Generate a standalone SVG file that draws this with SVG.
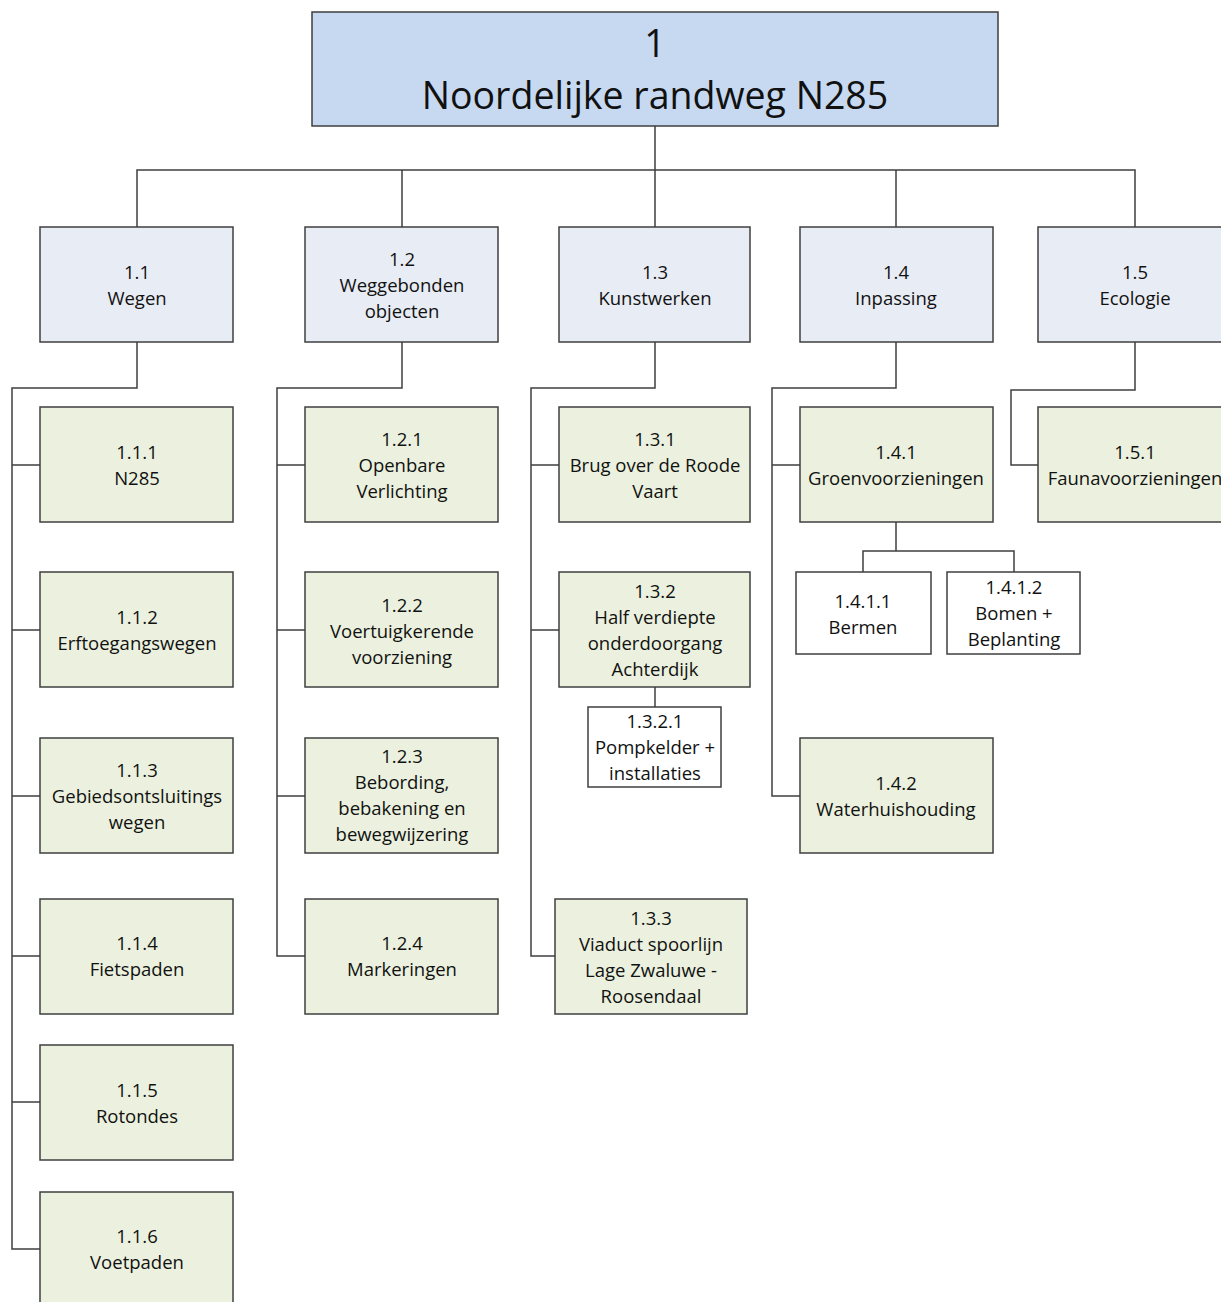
<svg xmlns="http://www.w3.org/2000/svg" width="1221" height="1302" viewBox="0 0 1221 1302">
<style>
.b{stroke:#3f3f3f;stroke-width:1.5}
.top{fill:#C6D9F0}
.l2{fill:#E8ECF4}
.l3{fill:#EBF1DE}
.l4{fill:#FFFFFF}
text{font-family:"Open Sans","Noto Sans",sans-serif;font-size:18.5px;fill:#111;text-anchor:middle}
.big{font-size:37.5px}
.c{fill:none;stroke:#3f3f3f;stroke-width:1.5}
</style>
<rect width="1221" height="1302" fill="#fff"/>
<g id="connectors">
<path class="c" d="M655 126V227M137 227V170H1135V227M402 170V227M896 170V227"/>
<path class="c" d="M137 342V388H12V1249H40M12 465H40M12 630H40M12 796H40M12 956H40M12 1102H40"/>
<path class="c" d="M402 342V388H277V956H305M277 465H305M277 630H305M277 796H305"/>
<path class="c" d="M655 342V388H531V956H555M531 465H559M531 630H559"/>
<path class="c" d="M655 687V707"/>
<path class="c" d="M896 342V388H772V796H800M772 465H800"/>
<path class="c" d="M896 522V551H863V572M863 551H1014V572"/>
<path class="c" d="M1135 342V390H1011V465H1038"/>
</g>
<g id="n1"><rect class="b top" x="312" y="12" width="686" height="114"/><text class="big" x="655" y="57">1</text><text class="big" x="655" y="109">Noordelijke randweg N285</text></g>
<g id="n1_1"><rect class="b l2" x="40" y="227" width="193" height="115"/><text x="137" y="279">1.1</text><text x="137" y="305">Wegen</text></g>
<g id="n1_2"><rect class="b l2" x="305" y="227" width="193" height="115"/><text x="402" y="266">1.2</text><text x="402" y="292">Weggebonden</text><text x="402" y="318">objecten</text></g>
<g id="n1_3"><rect class="b l2" x="559" y="227" width="191" height="115"/><text x="655" y="279">1.3</text><text x="655" y="305">Kunstwerken</text></g>
<g id="n1_4"><rect class="b l2" x="800" y="227" width="193" height="115"/><text x="896" y="279">1.4</text><text x="896" y="305">Inpassing</text></g>
<g id="n1_5"><rect class="b l2" x="1038" y="227" width="200" height="115"/><text x="1135" y="279">1.5</text><text x="1135" y="305">Ecologie</text></g>
<g id="n1_1_1"><rect class="b l3" x="40" y="407" width="193" height="115"/><text x="137" y="459">1.1.1</text><text x="137" y="485">N285</text></g>
<g id="n1_1_2"><rect class="b l3" x="40" y="572" width="193" height="115"/><text x="137" y="624">1.1.2</text><text x="137" y="650">Erftoegangswegen</text></g>
<g id="n1_1_3"><rect class="b l3" x="40" y="738" width="193" height="115"/><text x="137" y="777">1.1.3</text><text x="137" y="803">Gebiedsontsluitings</text><text x="137" y="829">wegen</text></g>
<g id="n1_1_4"><rect class="b l3" x="40" y="899" width="193" height="115"/><text x="137" y="950">1.1.4</text><text x="137" y="976">Fietspaden</text></g>
<g id="n1_1_5"><rect class="b l3" x="40" y="1045" width="193" height="115"/><text x="137" y="1097">1.1.5</text><text x="137" y="1123">Rotondes</text></g>
<g id="n1_1_6"><rect class="b l3" x="40" y="1192" width="193" height="120"/><text x="137" y="1243">1.1.6</text><text x="137" y="1269">Voetpaden</text></g>
<g id="n1_2_1"><rect class="b l3" x="305" y="407" width="193" height="115"/><text x="402" y="446">1.2.1</text><text x="402" y="472">Openbare</text><text x="402" y="498">Verlichting</text></g>
<g id="n1_2_2"><rect class="b l3" x="305" y="572" width="193" height="115"/><text x="402" y="612">1.2.2</text><text x="402" y="638">Voertuigkerende</text><text x="402" y="664">voorziening</text></g>
<g id="n1_2_3"><rect class="b l3" x="305" y="738" width="193" height="115"/><text x="402" y="763">1.2.3</text><text x="402" y="789">Bebording,</text><text x="402" y="815">bebakening en</text><text x="402" y="841">bewegwijzering</text></g>
<g id="n1_2_4"><rect class="b l3" x="305" y="899" width="193" height="115"/><text x="402" y="950">1.2.4</text><text x="402" y="976">Markeringen</text></g>
<g id="n1_3_1"><rect class="b l3" x="559" y="407" width="191" height="115"/><text x="655" y="446">1.3.1</text><text x="655" y="472">Brug over de Roode</text><text x="655" y="498">Vaart</text></g>
<g id="n1_3_2"><rect class="b l3" x="559" y="572" width="191" height="115"/><text x="655" y="598">1.3.2</text><text x="655" y="624">Half verdiepte</text><text x="655" y="650">onderdoorgang</text><text x="655" y="676">Achterdijk</text></g>
<g id="n1_3_2_1"><rect class="b l4" x="588" y="707" width="133" height="80"/><text x="655" y="728">1.3.2.1</text><text x="655" y="754">Pompkelder +</text><text x="655" y="780">installaties</text></g>
<g id="n1_3_3"><rect class="b l3" x="555" y="899" width="192" height="115"/><text x="651" y="925">1.3.3</text><text x="651" y="951">Viaduct spoorlijn</text><text x="651" y="977">Lage Zwaluwe -</text><text x="651" y="1003">Roosendaal</text></g>
<g id="n1_4_1"><rect class="b l3" x="800" y="407" width="193" height="115"/><text x="896" y="459">1.4.1</text><text x="896" y="485">Groenvoorzieningen</text></g>
<g id="n1_4_1_1"><rect class="b l4" x="796" y="572" width="135" height="82"/><text x="863" y="608">1.4.1.1</text><text x="863" y="634">Bermen</text></g>
<g id="n1_4_1_2"><rect class="b l4" x="947" y="572" width="133" height="82"/><text x="1014" y="594">1.4.1.2</text><text x="1014" y="620">Bomen +</text><text x="1014" y="646">Beplanting</text></g>
<g id="n1_4_2"><rect class="b l3" x="800" y="738" width="193" height="115"/><text x="896" y="790">1.4.2</text><text x="896" y="816">Waterhuishouding</text></g>
<g id="n1_5_1"><rect class="b l3" x="1038" y="407" width="200" height="115"/><text x="1135" y="459">1.5.1</text><text x="1135" y="485">Faunavoorzieningen</text></g>
</svg>
